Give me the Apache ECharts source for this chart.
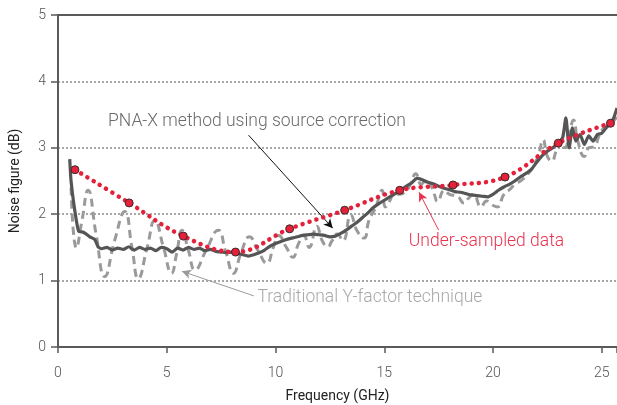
<!DOCTYPE html>
<html>
<head>
<meta charset="utf-8">
<script src="https://cdn.jsdelivr.net/npm/echarts@6/dist/echarts.min.js"></script>
<style>
  html, body { margin: 0; padding: 0; background: #fff; }
  #chart { width: 617px; height: 405px; }
</style>
</head>
<body>
<div id="chart"></div>
<script>
// axis ticks
const xTicks = [0, 5, 10, 15, 20, 25];
const yTicks = [0, 1, 2, 3, 4, 5];

// PNA-X method using source correction (dark solid trace)
const pnaFreq = [0.54, 0.6, 0.77, 0.95, 1.15, 1.3, 1.46, 1.69, 1.84, 2.0, 2.25, 2.5, 2.75, 3.0, 3.25, 3.5, 3.75, 4.0, 4.25, 4.5, 4.75, 5.0, 5.25, 5.5, 5.75, 6.0, 6.25, 6.5, 6.75, 7.0, 7.25, 7.5, 7.75, 8.0, 8.25, 8.5, 8.75, 9.0, 9.25, 9.5, 9.75, 10.0, 10.25, 10.5, 10.75, 11.0, 11.25, 11.5, 11.75, 12.0, 12.25, 12.5, 12.75, 13.0, 13.25, 13.5, 13.75, 14.0, 14.25, 14.5, 14.75, 15.0, 15.25, 15.5, 15.75, 16.0, 16.25, 16.5, 16.75, 17.0, 17.25, 17.5, 17.75, 18.0, 18.25, 18.5, 18.75, 19.0, 19.25, 19.5, 19.75, 20.0, 20.25, 20.5, 20.75, 21.0, 21.25, 21.5, 21.75, 22.0, 22.25, 22.5, 22.75, 23.0, 23.2, 23.35, 23.5, 23.65, 23.8, 24.0, 24.2, 24.4, 24.6, 24.8, 25.0, 25.2, 25.4, 25.55, 25.7];
const pnaNF = [2.83, 2.5, 2.06, 1.74, 1.73, 1.7, 1.66, 1.62, 1.51, 1.48, 1.5, 1.46, 1.49, 1.47, 1.51, 1.46, 1.5, 1.47, 1.49, 1.45, 1.5, 1.48, 1.43, 1.49, 1.46, 1.5, 1.47, 1.49, 1.45, 1.47, 1.44, 1.43, 1.42, 1.43, 1.41, 1.39, 1.37, 1.39, 1.42, 1.46, 1.52, 1.56, 1.59, 1.62, 1.64, 1.66, 1.68, 1.69, 1.7, 1.69, 1.68, 1.66, 1.67, 1.71, 1.76, 1.82, 1.88, 1.95, 2.02, 2.1, 2.16, 2.21, 2.26, 2.31, 2.36, 2.42, 2.47, 2.54, 2.52, 2.48, 2.46, 2.42, 2.39, 2.37, 2.34, 2.33, 2.31, 2.29, 2.28, 2.27, 2.26, 2.3, 2.36, 2.41, 2.45, 2.5, 2.56, 2.61, 2.67, 2.78, 2.88, 2.95, 3.0, 3.08, 3.15, 3.45, 3.0, 3.3, 3.1, 3.2, 3.05, 3.18, 3.1, 3.2, 3.22, 3.3, 3.37, 3.45, 3.6];

// Traditional Y-factor technique (grey dashed trace)
const yfFreq = [0.6, 0.85, 1.1, 1.38, 1.75, 2.15, 2.6, 3.07, 3.4, 3.69, 4.1, 4.45, 4.85, 5.22, 5.45, 5.7, 6.0, 6.3, 6.8, 7.37, 7.7, 8.07, 8.4, 8.8, 9.2, 9.6, 9.9, 10.15, 10.5, 10.8, 11.05, 11.3, 11.55, 11.9, 12.15, 12.4, 12.6, 12.84, 13.1, 13.46, 13.75, 14.07, 14.3, 14.6, 14.9, 15.05, 15.25, 15.45, 15.7, 16.0, 16.2, 16.45, 16.7, 16.9, 17.1, 17.3, 17.45, 17.76, 18.0, 18.37, 18.66, 18.9, 19.1, 19.45, 19.7, 19.9, 20.2, 20.5, 20.8, 21.0, 21.3, 21.6, 21.9, 22.1, 22.3, 22.5, 22.7, 22.9, 23.1, 23.3, 23.5, 23.7, 23.9, 24.2, 24.4, 24.65, 24.9, 25.1, 25.4, 25.7];
const yfNF = [2.4, 1.49, 1.9, 2.36, 1.7, 1.06, 1.6, 2.04, 1.5, 1.03, 1.5, 1.91, 1.5, 1.11, 1.4, 1.76, 1.45, 1.16, 1.45, 1.76, 1.45, 1.11, 1.4, 1.66, 1.45, 1.26, 1.5, 1.68, 1.5, 1.35, 1.55, 1.68, 1.5, 1.82, 1.6, 1.51, 1.6, 1.7, 1.6, 1.99, 1.75, 1.64, 1.91, 2.1, 2.36, 2.11, 2.2, 2.31, 2.3, 2.35, 2.45, 2.61, 2.45, 2.5, 2.46, 2.3, 2.19, 2.36, 2.3, 2.27, 2.17, 2.25, 2.3, 2.11, 2.2, 2.15, 2.11, 2.3, 2.38, 2.45, 2.51, 2.6, 2.75, 2.9, 3.12, 2.87, 2.8, 2.95, 3.1, 3.0, 3.2, 3.42, 3.1, 2.87, 3.0, 3.02, 3.2, 3.3, 3.35, 3.47];

// Under-sampled data (red markers)
const usFreq = [0.78, 3.27, 5.76, 8.16, 10.65, 13.18, 15.71, 18.16, 20.55, 23.0, 25.4];
const usNF = [2.67, 2.17, 1.67, 1.43, 1.78, 2.06, 2.36, 2.44, 2.56, 3.07, 3.37];

// annotations (data coordinates)
const notes = [
  { text: 'PNA-X method using source correction', at: [2.3, 3.39], color: '#6a6a6a', from: [8.76, 3.19], to: [12.63, 1.79], arrow: '#111' },
  { text: 'Under-sampled data', at: [16.13, 1.58], color: '#e8334f', from: [17.5, 1.76], to: [16.6, 2.33], arrow: '#e8334f' },
  { text: 'Traditional Y-factor technique', at: [9.17, 0.74], color: '#a8a8a8', from: [9.0, 0.77], to: [5.7, 1.14], arrow: '#9a9a9a' }
];

const zip = (xs, ys) => xs.map((x, i) => [x, ys[i]]);
const font = 'Roboto, "Liberation Sans", sans-serif';

const chart = echarts.init(document.getElementById('chart'));

const option = {
  animation: false,
  grid: { left: 58, right: 0, top: 15, bottom: 58, containLabel: false, outerBoundsMode: 'none' },
  xAxis: [{
    type: 'value', min: 0, max: 25.7, interval: 5,
    name: 'Frequency (GHz)', nameLocation: 'middle', nameGap: 42,
    nameTextStyle: { color: '#222', fontSize: 14, fontFamily: font },
    axisLine: { lineStyle: { color: '#5a5a5a', width: 2 } },
    axisTick: { show: true, length: 6, lineStyle: { color: '#5a5a5a', width: 1.5 } },
    axisLabel: {
      color: '#555', fontSize: 14, fontFamily: font, fontWeight: 300, margin: 19,
      formatter: v => xTicks.includes(v) ? String(v) : ''
    },
    splitLine: { show: false }
  }, {
    type: 'value', position: 'top', min: 0, max: 25.7,
    axisLine: { show: true, lineStyle: { color: '#5a5a5a', width: 2 } },
    axisTick: { show: false }, axisLabel: { show: false }, splitLine: { show: false }
  }],
  yAxis: {
    type: 'value', min: 0, max: 5, interval: 1,
    name: 'Noise figure (dB)', nameLocation: 'middle', nameGap: 36,
    nameTextStyle: { color: '#222', fontSize: 14, fontFamily: font },
    axisLine: { show: true, lineStyle: { color: '#5a5a5a', width: 2 } },
    axisTick: { show: true, length: 7, lineStyle: { color: '#5a5a5a', width: 1.5 } },
    axisLabel: {
      color: '#555', fontSize: 14, fontFamily: font, fontWeight: 300, margin: 12,
      formatter: v => yTicks.includes(v) ? String(v) : ''
    },
    splitLine: { show: true, lineStyle: { color: '#8a8a8a', width: 1.5, type: [2, 2] } }
  },
  series: [
    {
      name: 'Traditional Y-factor technique', type: 'line', data: zip(yfFreq, yfNF),
      smooth: 0.5, symbol: 'none',
      lineStyle: { color: '#9a9a9a', width: 3, type: [8, 5] }
    },
    {
      name: 'PNA-X method using source correction', type: 'line', data: zip(pnaFreq, pnaNF),
      smooth: 0.2, symbol: 'none',
      lineStyle: { color: '#555555', width: 3.2 }
    },
    {
      name: 'Under-sampled data', type: 'line', data: zip(usFreq, usNF),
      smooth: 0.4, symbol: 'circle', symbolSize: 8,
      itemStyle: { color: '#e5203a', borderColor: '#3a2a2a', borderWidth: 1 },
      lineStyle: { color: '#e5203a', width: 4.5, type: [0.1, 7.2], cap: 'round' },
      z: 5
    },
    {
      name: 'arrows', type: 'line', data: [], silent: true,
      markLine: {
        silent: true, symbol: ['none', 'arrow'], symbolSize: [7, 9],
        label: { show: false }, animation: false,
        data: notes.map(n => [
          { coord: n.from, lineStyle: { color: n.arrow, width: 1, type: 'solid' }, itemStyle: { color: n.arrow } },
          { coord: n.to }
        ])
      },
      z: 6
    }
  ]
};

chart.setOption(option);

// annotation texts placed from data coordinates
chart.setOption({
  graphic: notes.map(n => {
    const p = chart.convertToPixel({ gridIndex: 0 }, n.at);
    return {
      type: 'text', x: p[0], y: p[1],
      style: { text: n.text, fill: n.color, font: '300 17.5px ' + font, verticalAlign: 'middle' }
    };
  })
});
</script>
</body>
</html>
